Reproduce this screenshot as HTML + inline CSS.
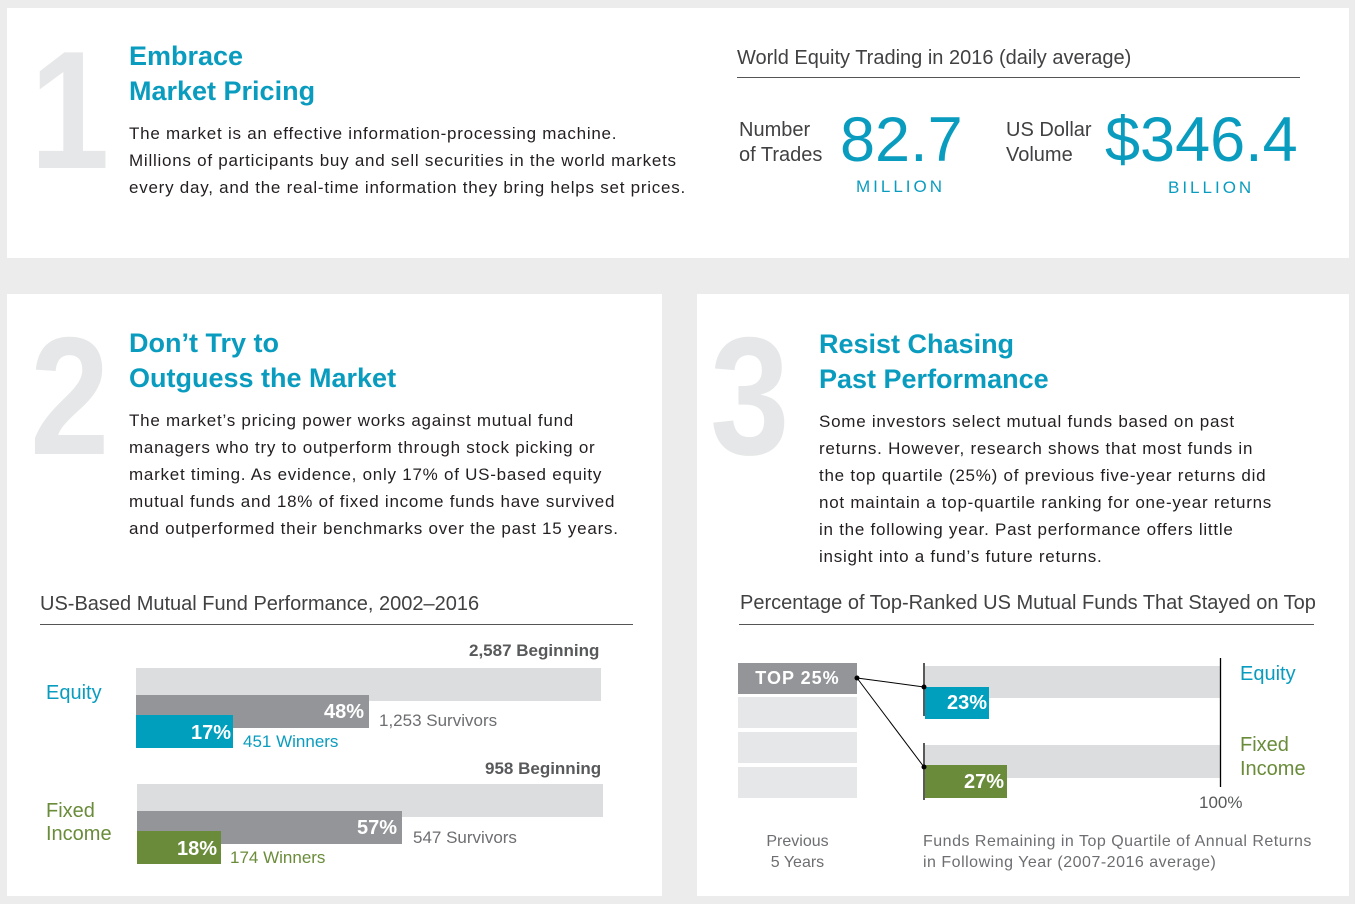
<!DOCTYPE html>
<html><head><meta charset="utf-8"><style>
body{margin:0;width:1355px;height:904px;background:#ececec;position:relative;overflow:hidden;font-family:"Liberation Sans",Arial,sans-serif}
.p{position:absolute;background:#fff}
.a{position:absolute;white-space:nowrap;line-height:1}
.big{color:#e6e7e8;font-size:168px;font-weight:bold;transform:scaleX(0.85);transform-origin:left top}
.t{color:#0a9cbf;font-size:27px;font-weight:bold;line-height:35px}
.b{color:#231f20;font-size:17px;line-height:27px;letter-spacing:0.75px}
.h{color:#414042;font-size:20px}
.r{position:absolute}
.bl{color:#fff;font-weight:bold;font-size:20px;text-align:right}
</style></head><body>
<div class="p" style="left:7px;top:8px;width:1342px;height:250px"></div>
<div class="p" style="left:7px;top:294px;width:655px;height:602px"></div>
<div class="p" style="left:697px;top:294px;width:652px;height:602px"></div>

<div class="a big" style="left:30px;top:26px">1</div>
<div class="a t" style="left:129px;top:39px">Embrace<br>Market Pricing</div>
<div class="a b" style="left:129px;top:120px">The market is an effective information-processing machine.<br>Millions of participants buy and sell securities in the world markets<br>every day, and the real-time information they bring helps set prices.</div>

<div class="a h" style="left:737px;top:48px">World Equity Trading in 2016 (daily average)</div>
<div class="r" style="left:737px;top:77px;width:563px;height:1px;background:#555"></div>
<div class="a" style="left:739px;top:118px;font-size:20px;color:#414042;line-height:25px">Number<br>of Trades</div>
<div class="a" style="left:840px;top:109px;font-size:63px;color:#0a9cbf">82.7</div>
<div class="a" style="left:856px;top:178px;font-size:17px;color:#0a9cbf;letter-spacing:3px">MILLION</div>
<div class="a" style="left:1006px;top:118px;font-size:20px;color:#414042;line-height:25px">US Dollar<br>Volume</div>
<div class="a" style="left:1105px;top:109px;font-size:63px;color:#0a9cbf">$346.4</div>
<div class="a" style="left:1168px;top:179px;font-size:17px;color:#0a9cbf;letter-spacing:3px">BILLION</div>

<div class="a big" style="left:30px;top:312px">2</div>
<div class="a t" style="left:129px;top:326px">Don’t Try to<br>Outguess the Market</div>
<div class="a b" style="left:129px;top:407px">The market’s pricing power works against mutual fund<br>managers who try to outperform through stock picking or<br>market timing. As evidence, only 17% of US-based equity<br>mutual funds and 18% of fixed income funds have survived<br>and outperformed their benchmarks over the past 15 years.</div>

<div class="a h" style="left:40px;top:594px">US-Based Mutual Fund Performance, 2002–2016</div>
<div class="r" style="left:40px;top:624px;width:593px;height:1px;background:#555"></div>
<div class="a" style="left:469px;top:642px;font-size:17px;font-weight:bold;color:#58595b">2,587 Beginning</div>
<div class="a" style="left:46px;top:683px;font-size:20px;color:#0a9cbf">Equity</div>
<div class="r" style="left:136px;top:668px;width:465px;height:33px;background:#dcdddf"></div>
<div class="r" style="left:136px;top:695px;width:233px;height:33px;background:#939598"></div>
<div class="a bl" style="left:136px;top:702px;width:228px">48%</div>
<div class="a" style="left:379px;top:712px;font-size:17px;color:#6d6e71">1,253 Survivors</div>
<div class="r" style="left:136px;top:715px;width:97px;height:33px;background:#009fbd"></div>
<div class="a bl" style="left:136px;top:723px;width:95px">17%</div>
<div class="a" style="left:243px;top:733px;font-size:17px;color:#0a9cbf">451 Winners</div>

<div class="a" style="left:485px;top:760px;font-size:17px;font-weight:bold;color:#58595b">958 Beginning</div>
<div class="a" style="left:46px;top:800px;font-size:20px;color:#6a8c3a;line-height:23px">Fixed<br>Income</div>
<div class="r" style="left:137px;top:784px;width:466px;height:33px;background:#dcdddf"></div>
<div class="r" style="left:137px;top:811px;width:265px;height:33px;background:#939598"></div>
<div class="a bl" style="left:137px;top:818px;width:260px">57%</div>
<div class="a" style="left:413px;top:829px;font-size:17px;color:#6d6e71">547 Survivors</div>
<div class="r" style="left:137px;top:831px;width:84px;height:33px;background:#6a8c3a"></div>
<div class="a bl" style="left:137px;top:839px;width:80px">18%</div>
<div class="a" style="left:230px;top:849px;font-size:17px;color:#6a8c3a">174 Winners</div>

<div class="a big" style="left:710px;top:312px">3</div>
<div class="a t" style="left:819px;top:327px">Resist Chasing<br>Past Performance</div>
<div class="a b" style="left:819px;top:408px">Some investors select mutual funds based on past<br>returns. However, research shows that most funds in<br>the top quartile (25%) of previous five-year returns did<br>not maintain a top-quartile ranking for one-year returns<br>in the following year. Past performance offers little<br>insight into a fund’s future returns.</div>

<div class="a h" style="left:740px;top:593px">Percentage of Top-Ranked US Mutual Funds That Stayed on Top</div>
<div class="r" style="left:739px;top:624px;width:575px;height:1px;background:#555"></div>

<div class="r" style="left:738px;top:663px;width:119px;height:31px;background:#939598"></div>
<div class="a" style="left:738px;top:669px;width:119px;text-align:center;color:#fff;font-weight:bold;font-size:18px;letter-spacing:1px">TOP 25%</div>
<div class="r" style="left:738px;top:697px;width:119px;height:31px;background:#e6e7e8"></div>
<div class="r" style="left:738px;top:732px;width:119px;height:31px;background:#e6e7e8"></div>
<div class="r" style="left:738px;top:767px;width:119px;height:31px;background:#e6e7e8"></div>

<div class="r" style="left:925px;top:666px;width:296px;height:32px;background:#dcdddf"></div>
<div class="r" style="left:925px;top:745px;width:296px;height:33px;background:#dcdddf"></div>
<div class="r" style="left:925px;top:687px;width:64px;height:32px;background:#009fbd"></div>
<div class="a bl" style="left:925px;top:693px;width:62px">23%</div>
<div class="r" style="left:925px;top:765px;width:82px;height:33px;background:#6a8c3a"></div>
<div class="a bl" style="left:925px;top:772px;width:79px">27%</div>
<svg class="r" style="left:0;top:0" width="1355" height="904">
<line x1="924" y1="663" x2="924" y2="716" stroke="#000" stroke-width="1.3"/>
<line x1="924" y1="743" x2="924" y2="800" stroke="#000" stroke-width="1.3"/>
<line x1="1220.5" y1="658" x2="1220.5" y2="787" stroke="#000" stroke-width="1.3"/>
<line x1="857" y1="678" x2="924" y2="687" stroke="#000" stroke-width="1"/>
<line x1="857" y1="678" x2="924" y2="767" stroke="#000" stroke-width="1"/>
<circle cx="857" cy="678" r="2.5"/><circle cx="924" cy="687" r="2.5"/><circle cx="924" cy="767" r="2.5"/>
</svg>
<div class="a" style="left:1240px;top:664px;font-size:20px;color:#0a9cbf">Equity</div>
<div class="a" style="left:1240px;top:733px;font-size:20px;color:#6a8c3a;line-height:24px">Fixed<br>Income</div>
<div class="a" style="left:1199px;top:794px;font-size:17px;color:#58595b">100%</div>
<div class="a" style="left:738px;top:831px;width:119px;text-align:center;font-size:16px;color:#6d6e71;line-height:21px">Previous<br>5 Years</div>
<div class="a" style="left:923px;top:831px;font-size:16px;letter-spacing:0.5px;color:#6d6e71;line-height:21px">Funds Remaining in Top Quartile of Annual Returns<br>in Following Year (2007-2016 average)</div>
</body></html>
